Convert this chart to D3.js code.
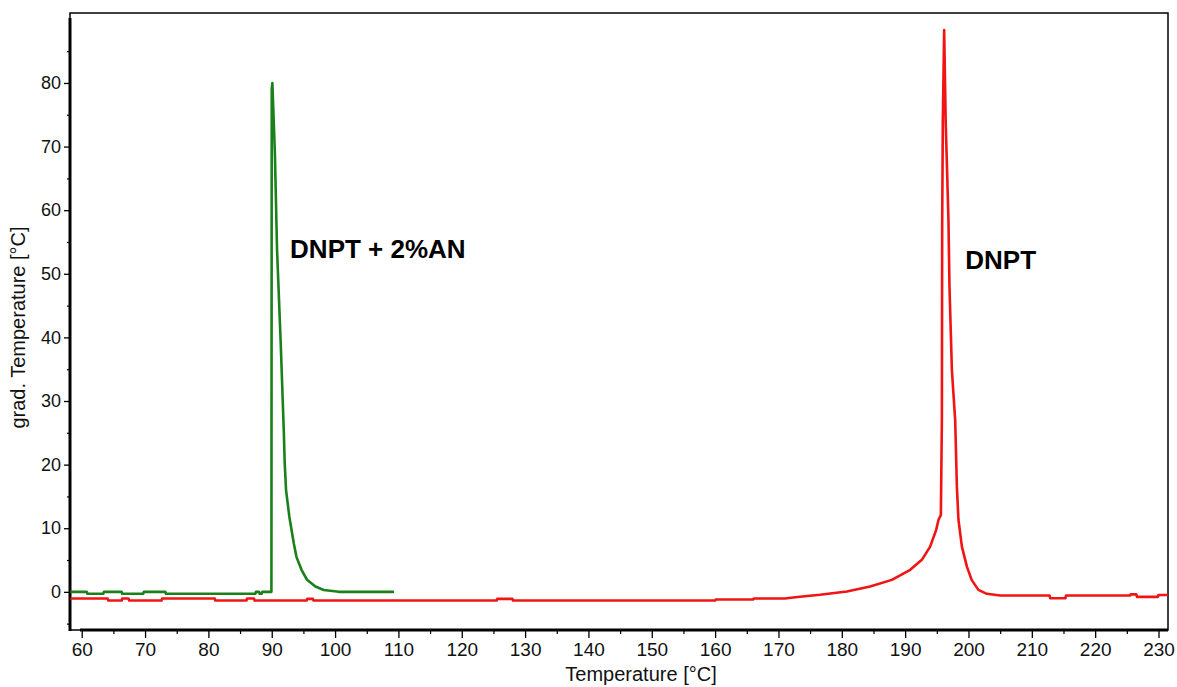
<!DOCTYPE html>
<html>
<head>
<meta charset="utf-8">
<script src="https://cdn.jsdelivr.net/npm/d3@7"></script>
<style>
  html, body { margin: 0; padding: 0; background: #fff; }
  svg { display: block; }
  text { font-family: "Liberation Sans", Arial, Helvetica, sans-serif; }
</style>
</head>
<body>
<svg id="chart" width="1177" height="687"></svg>
<script>
// ---- data ----
const xTicks = [60, 70, 80, 90, 100, 110, 120, 130, 140, 150, 160, 170, 180, 190, 200, 210, 220, 230];
const yTicks = [0, 10, 20, 30, 40, 50, 60, 70, 80];
const xLabel = "Temperature [°C]";
const yLabel = "grad. Temperature [°C]";
const seriesNames = ["DNPT + 2%AN", "DNPT"];

// DNPT + 2% AN (green)
const greenT = [58.2, 60.8, 60.9, 63.4, 63.5, 66.3, 66.4, 69.7, 69.8, 73.2, 73.3, 87.4, 87.5, 88.0, 88.1, 88.4, 88.5, 89.95,
                90.0, 90.1, 90.5, 90.84, 91.4, 91.9, 92.05, 92.26, 92.78, 93.48, 93.9, 94.7, 95.57, 96.9, 98.2, 100.6, 109.3];
const greenV = [0, 0, -0.3, -0.3, 0, 0, -0.3, -0.3, 0, 0, -0.3, -0.3, 0, 0, -0.3, -0.3, 0, 0,
                79.0, 80.0, 68.8, 53.7, 39.6, 25.4, 20.2, 16.0, 11.8, 7.65, 5.5, 3.46, 1.9, 0.83, 0.3, 0, 0];

// DNPT (red)
const redT = [58.2, 64.1, 64.2, 66.3, 66.4, 67.4, 67.5, 72.6, 72.7, 81.0, 81.1, 86.0, 86.1, 87.2, 87.3, 95.5, 95.6, 96.5, 96.6,
              125.5, 125.6, 128.0, 128.1, 160.0, 160.1, 166.0, 166.1, 171.0, 173.0, 176.55, 180.8, 184.47, 187.9, 190.8,
              192.64, 193.95, 194.9, 195.26, 195.64, 195.8, 195.85, 195.95, 196.16, 196.4, 196.84, 197.0, 197.38, 197.9,
              198.17, 198.42, 198.96, 199.75, 200.5, 201.57, 202.9, 205.0, 212.8, 212.9, 215.3, 215.4, 225.5, 225.6, 226.5,
              226.6, 229.9, 230.0, 231.5];
const redV = [-1.05, -1.05, -1.37, -1.37, -1.05, -1.05, -1.37, -1.37, -1.05, -1.05, -1.37, -1.37, -1.05, -1.05, -1.37, -1.37, -1.1, -1.1, -1.37,
              -1.37, -1.1, -1.1, -1.37, -1.37, -1.2, -1.2, -1.05, -1.05, -0.8, -0.47, 0.05, 0.83, 1.88, 3.46,
              5.03, 7.1, 9.74, 11.3, 12.1, 27.0, 58.0, 74.0, 88.3, 74.1, 58.4, 48.0, 34.9, 27.0,
              16.5, 11.3, 7.1, 3.97, 1.88, 0.31, -0.31, -0.58, -0.58, -1.0, -1.0, -0.58, -0.58, -0.4, -0.4,
              -0.8, -0.8, -0.5, -0.5];

// ---- layout ----
const svg = d3.select("#chart");
const L = 70, R = 1168, T = 13, B = 630;

const x = d3.scaleLinear().domain([58.15, 231.5]).range([L, R]);
const y = d3.scaleLinear().domain([-6, 91]).range([B, T]);

const minorX = d3.range(65, 231, 10);
const minorY = [-5, 5, 15, 25, 35, 45, 55, 65, 75, 85];
const font = '"Liberation Sans", Arial, Helvetica, sans-serif';

// frame (thin)
svg.append("rect").attr("x", L).attr("y", T).attr("width", R - L).attr("height", B - T)
  .attr("fill", "none").attr("stroke", "#000").attr("stroke-width", 1.5);

// axes
const gx = svg.append("g").attr("transform", `translate(0,${B})`)
  .call(d3.axisBottom(x).tickValues(xTicks).tickSize(8).tickPadding(5).tickFormat(d3.format("d")));
gx.select(".domain").remove();
gx.selectAll(".tick line").attr("stroke-width", 1.3);
gx.selectAll(".tick text").attr("font-size", 19).attr("fill", "#111").style("font-family", font);
svg.append("g").attr("transform", `translate(0,${B})`)
  .call(d3.axisBottom(x).tickValues(minorX).tickSize(4).tickFormat(""))
  .call(g => g.select(".domain").remove())
  .selectAll(".tick line").attr("stroke-width", 1.2);

const gy = svg.append("g").attr("transform", `translate(${L},0)`)
  .call(d3.axisLeft(y).tickValues(yTicks).tickSize(6).tickPadding(3).tickFormat(d3.format("d")));
gy.select(".domain").remove();
gy.selectAll(".tick line").attr("stroke-width", 1.3);
gy.selectAll(".tick text").attr("font-size", 18).attr("fill", "#111").style("font-family", font);
svg.append("g").attr("transform", `translate(${L},0)`)
  .call(d3.axisLeft(y).tickValues(minorY).tickSize(3).tickFormat(""))
  .call(g => g.select(".domain").remove())
  .selectAll(".tick line").attr("stroke-width", 1.2);

// thick axis lines
svg.append("line").attr("x1", L).attr("x2", L).attr("y1", T + 5).attr("y2", B + 1)
  .attr("stroke", "#000").attr("stroke-width", 3);
svg.append("line").attr("x1", L + 10).attr("x2", R).attr("y1", B).attr("y2", B)
  .attr("stroke", "#000").attr("stroke-width", 3);

// axis titles
svg.append("text").attr("x", 641).attr("y", 681).attr("text-anchor", "middle")
  .attr("font-size", 20).attr("fill", "#111").text(xLabel);
svg.append("text").attr("transform", `translate(25,${(T + B) / 2 + 6}) rotate(-90)`)
  .attr("text-anchor", "middle").attr("font-size", 20).attr("fill", "#111").text(yLabel);

// lines
const line = d3.line().x(d => x(d[0])).y(d => y(d[1]));
const plot = svg.append("g");
plot.append("path").datum(redT.map((t, i) => [t, redV[i]]))
  .attr("d", line).attr("fill", "none").attr("stroke", "#f01414").attr("stroke-width", 2.6)
  .attr("stroke-linejoin", "round");
plot.append("path").datum(greenT.map((t, i) => [t, greenV[i]]))
  .attr("d", line).attr("fill", "none").attr("stroke", "#1a801a").attr("stroke-width", 2.6)
  .attr("stroke-linejoin", "round");

// annotations
svg.append("text").attr("x", x(92.9)).attr("y", y(52.5)).attr("font-size", 26)
  .attr("font-weight", "bold").attr("fill", "#000").text(seriesNames[0]);
svg.append("text").attr("x", x(199.5)).attr("y", y(50.8)).attr("font-size", 26)
  .attr("font-weight", "bold").attr("fill", "#000").text(seriesNames[1]);
</script>
</body>
</html>
